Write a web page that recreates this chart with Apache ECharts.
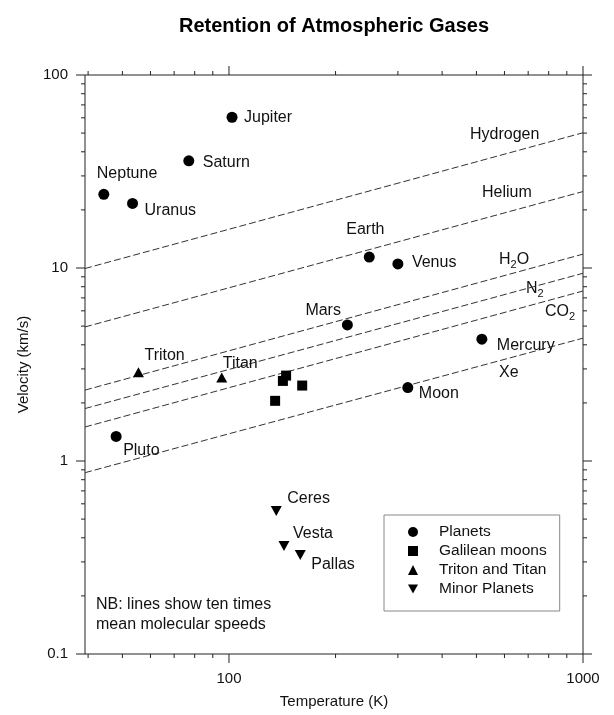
<!DOCTYPE html>
<html>
<head>
<meta charset="utf-8">
<script src="https://cdn.jsdelivr.net/npm/echarts@6/dist/echarts.min.js"></script>
<style>
  html, body { margin: 0; padding: 0; background: #fff; }
  #chart { width: 614px; height: 715px; }
</style>
</head>
<body>
<div id="chart"></div>
<script>
// axis ranges
var xMin = 39.2, xMax = 1000;
var yMin = 0.1, yMax = 100;

// planets
var planetNames = ['Jupiter', 'Saturn', 'Neptune', 'Uranus', 'Earth', 'Venus', 'Mars', 'Mercury', 'Moon', 'Pluto'];
var planetTemps = [102, 77, 44.3, 53.4, 249, 300, 216, 518, 320, 48];
var planetVels = [60.4, 35.9, 24.1, 21.6, 11.4, 10.5, 5.07, 4.28, 2.40, 1.34];

// galilean moons (unlabelled)
var galileanTemps = [145, 142, 161, 135];
var galileanVels = [2.77, 2.60, 2.46, 2.05];

// triton and titan
var ttNames = ['Triton', 'Titan'];
var ttTemps = [55.5, 95.4];
var ttVels = [2.88, 2.71];

// minor planets
var minorNames = ['Ceres', 'Vesta', 'Pallas'];
var minorTemps = [136, 143, 159];
var minorVels = [0.551, 0.363, 0.326];

// gas lines: velocity at left edge (xMin) and right edge (xMax)
var gasNames = ['Hydrogen', 'Helium', 'H2O', 'N2', 'CO2', 'Xe'];
var gasVelLeft = [9.94, 4.95, 2.33, 1.87, 1.50, 0.87];
var gasVelRight = [50.2, 24.9, 11.8, 9.39, 7.6, 4.33];

// tick values
var xMajorTicks = [100, 1000];
var yMajorTicks = [0.1, 1, 10, 100];
var xMinorTicks = [];
var yMinorTicks = [];
[10, 100].forEach(function (d) {
    for (var k = 2; k <= 9; k++) {
        if (k * d > xMin && k * d < xMax) xMinorTicks.push(k * d);
    }
});
[0.1, 1, 10].forEach(function (d) {
    for (var k = 2; k <= 9; k++) yMinorTicks.push(+(k * d).toPrecision(2));
});

var labelOffsets = {
    Jupiter: [12, 0], Saturn: [14, 2], Neptune: [-7, -21], Uranus: [12, 7],
    Earth: [-23, -27], Venus: [14, -1], Mars: [-42, -14], Mercury: [15, 6],
    Moon: [11, 6], Pluto: [7, 14], Triton: [6, -17], Titan: [1, -14],
    Ceres: [11, -12], Vesta: [9, -12], Pallas: [11, 10]
};

var FONT = "'Liberation Sans', Arial, Helvetica, sans-serif";
var ink = '#111';

function pointData(names, temps, vels) {
    return temps.map(function (t, i) {
        var name = names ? names[i] : '';
        var item = {name: name, value: [t, vels[i]]};
        if (name) {
            item.label = {
                show: true,
                position: 'inside',
                align: 'left',
                verticalAlign: 'middle',
                offset: labelOffsets[name],
                formatter: name,
                color: ink,
                fontSize: 16,
                fontFamily: FONT
            };
        }
        return item;
    });
}

function tickSeries(values, len, isX) {
    return {
        type: 'custom',
        silent: true,
        z: 10,
        data: values.map(function (v) { return isX ? [v, 1] : [100, v]; }),
        renderItem: function (params, api) {
            var st = {stroke: '#222', lineWidth: 1};
            if (isX) {
                var v = api.value(0);
                var b = api.coord([v, yMin]), t = api.coord([v, yMax]);
                return {type: 'group', children: [
                    {type: 'line', shape: {x1: b[0], y1: b[1], x2: b[0], y2: b[1] + len}, style: st},
                    {type: 'line', shape: {x1: t[0], y1: t[1], x2: t[0], y2: t[1] - len}, style: st}
                ]};
            }
            var w = api.value(1);
            var l = api.coord([xMin, w]), r = api.coord([xMax, w]);
            return {type: 'group', children: [
                {type: 'line', shape: {x1: l[0], y1: l[1], x2: l[0] - len, y2: l[1]}, style: st},
                {type: 'line', shape: {x1: r[0], y1: r[1], x2: r[0] + len, y2: r[1]}, style: st}
            ]};
        }
    };
}

function powerLabel(v) {
    var l = Math.log10(v);
    return Math.abs(l - Math.round(l)) < 1e-6 ? String(+v.toPrecision(3)) : '';
}

var series = [];
gasNames.forEach(function (g, i) {
    series.push({
        name: g,
        type: 'line',
        silent: true,
        symbol: 'none',
        lineStyle: {color: '#333', width: 1, type: [7, 3]},
        data: [[xMin, gasVelLeft[i]], [xMax, gasVelRight[i]]],
        z: 2
    });
});
var markStyle = {color: '#000', opacity: 1};
series.push({
    name: 'Planets', type: 'scatter', symbol: 'circle', symbolSize: 11,
    itemStyle: markStyle, z: 5,
    data: pointData(planetNames, planetTemps, planetVels)
});
series.push({
    name: 'Galilean moons', type: 'scatter', symbol: 'rect', symbolSize: 10,
    itemStyle: markStyle, z: 5,
    data: pointData(null, galileanTemps, galileanVels)
});
series.push({
    name: 'Triton and Titan', type: 'scatter', symbol: 'triangle', symbolSize: [11, 10],
    itemStyle: markStyle, z: 5,
    data: pointData(ttNames, ttTemps, ttVels)
});
series.push({
    name: 'Minor Planets', type: 'scatter', symbol: 'path://M0,0 L10,0 L5,9 Z', symbolSize: [11, 10],
    itemStyle: markStyle, z: 5,
    data: pointData(minorNames, minorTemps, minorVels)
});
series.push(tickSeries(xMajorTicks, 9, true));
series.push(tickSeries(xMinorTicks, 4, true));
series.push(tickSeries(yMajorTicks, 9, false));
series.push(tickSeries(yMinorTicks, 4, false));

function gasLabel(text, x, y) {
    return {
        type: 'text', x: x, y: y, silent: true,
        style: {
            text: text,
            fill: ink,
            font: '16px ' + FONT,
            verticalAlign: 'middle',
            rich: {
                n: {fontSize: 16, fontFamily: FONT, lineHeight: 20, fill: ink},
                s: {fontSize: 11, fontFamily: FONT, lineHeight: 11, verticalAlign: 'bottom', fill: ink}
            }
        }
    };
}

var chart = echarts.init(document.getElementById('chart'));
var option = {
    animation: false,
    backgroundColor: '#fff',
    title: {
        text: 'Retention of Atmospheric Gases',
        left: 334,
        top: 16,
        textAlign: 'center',
        padding: 0,
        textStyle: {fontSize: 20, fontWeight: 'bold', fontFamily: FONT, color: '#000'}
    },
    grid: {
        left: 85, right: 31, top: 75, bottom: 61,
        show: true, borderColor: '#222', borderWidth: 1
    },
    legend: {
        data: ['Planets', 'Galilean moons', 'Triton and Titan', 'Minor Planets'],
        orient: 'vertical',
        left: 384,
        top: 515,
        padding: [9, 13, 14, 24],
        itemWidth: 10,
        itemHeight: 10,
        itemGap: 3,
        borderColor: '#888',
        borderWidth: 1,
        selectedMode: false,
        textStyle: {fontSize: 15.5, lineHeight: 16, fontFamily: FONT, color: ink, padding: [0, 0, 0, 16]}
    },
    xAxis: {
        type: 'log', logBase: 10, min: xMin, max: xMax,
        name: 'Temperature (K)', nameLocation: 'middle', nameGap: 40,
        nameTextStyle: {fontSize: 15, fontFamily: FONT, color: ink},
        axisLine: {show: false}, axisTick: {show: false}, splitLine: {show: false},
        axisLabel: {margin: 17, fontSize: 15, fontFamily: FONT, color: ink, formatter: powerLabel}
    },
    yAxis: {
        type: 'log', logBase: 10, min: yMin, max: yMax,
        name: 'Velocity (km/s)', nameLocation: 'middle', nameGap: 54, nameRotate: 90,
        nameTextStyle: {fontSize: 15, fontFamily: FONT, color: ink},
        axisLine: {show: false}, axisTick: {show: false}, splitLine: {show: false},
        axisLabel: {margin: 17, fontSize: 15, fontFamily: FONT, color: ink, formatter: powerLabel}
    },
    graphic: [
        gasLabel('Hydrogen', 470, 135),
        gasLabel('Helium', 482, 193),
        gasLabel('{n|H}{s|2}{n|O}', 499, 260),
        gasLabel('{n|N}{s|2}', 526, 289),
        gasLabel('{n|CO}{s|2}', 545, 312),
        gasLabel('Xe', 499, 373),
        {
            type: 'text', left: 96, top: 595, silent: true,
            style: {
                text: 'NB: lines show ten times\nmean molecular speeds',
                fill: ink, font: '16px ' + FONT, lineHeight: 20
            }
        }
    ],
    series: series
};
chart.setOption(option);
</script>
</body>
</html>
